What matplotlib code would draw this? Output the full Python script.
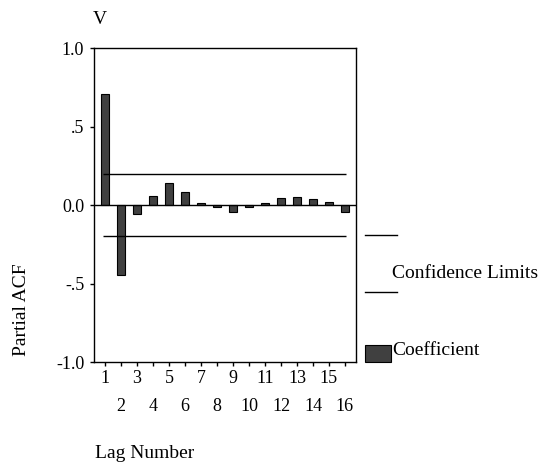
import numpy as np
import matplotlib
matplotlib.use("Agg")
import matplotlib.pyplot as plt
from matplotlib.lines import Line2D
from matplotlib.patches import Rectangle

plt.rcParams["font.family"] = ["Liberation Serif", "DejaVu Serif"]

lags = np.arange(1, 17)
pacf = [0.707, -0.444, -0.060, 0.060, 0.142, 0.085, 0.010, -0.010,
        -0.045, -0.010, 0.010, 0.043, 0.053, 0.036, 0.021, -0.045]
conf_limit = 0.2
ytick_vals = [1.0, 0.5, 0.0, -0.5, -1.0]
ytick_labels = ["1.0", ".5", "0.0", "-.5", "-1.0"]

W, H = 558, 465
fig = plt.figure(figsize=(W / 100, H / 100), dpi=100)

# axes box in pixel terms
left, right, top, bottom = 94, 356, 48, 362
ax = fig.add_axes([left / W, 1 - bottom / H, (right - left) / W, (bottom - top) / H])

ax.bar(lags, pacf, width=0.5, color="#404040", edgecolor="black", linewidth=0.8, zorder=2)
ax.axhline(0, color="black", linewidth=1, zorder=3)
ax.hlines([conf_limit, -conf_limit], 0.9, 16.05, colors="black", linewidth=1, zorder=3)

ax.set_xlim(0.31, 16.69)
ax.set_ylim(-1.0, 1.0)

ax.set_yticks(ytick_vals)
ax.set_yticklabels(ytick_labels)

# odd lags on the first row, even lags on the second row
ax.set_xticks(lags[::2])
ax.set_xticklabels([str(l) for l in lags[::2]])
ax.set_xticks(lags[1::2], minor=True)
ax.set_xticklabels([str(l) for l in lags[1::2]], minor=True)

ax.tick_params(axis="both", which="both", direction="out", length=3, width=1,
               labelsize=13, color="black")
ax.tick_params(axis="x", which="major", pad=3)
ax.tick_params(axis="x", which="minor", pad=23)
ax.tick_params(axis="y", pad=4)

for sp in ax.spines.values():
    sp.set_linewidth(1)

fig.text(22 / W, 1 - 310 / H, "Partial ACF", rotation=90, fontsize=14,
         ha="center", va="center")
fig.text(95 / W, 1 - 453 / H, "Lag Number", fontsize=14, ha="left", va="center")
fig.text(100 / W, 1 - 20 / H, "V", fontsize=14, ha="center", va="center")

# legend drawn by hand
for yy in (235, 292):
    fig.add_artist(Line2D([365 / W, 397 / W], [1 - yy / H, 1 - yy / H],
                          color="black", linewidth=1))
fig.text(392 / W, 1 - 273 / H, "Confidence Limits", fontsize=14, ha="left", va="center")
fig.add_artist(Rectangle((365 / W, 1 - 362 / H), 26 / W, 17 / H,
                         facecolor="#404040", edgecolor="black", linewidth=0.8,
                         transform=fig.transFigure))
fig.text(392 / W, 1 - 350 / H, "Coefficient", fontsize=14, ha="left", va="center")

fig.savefig("out.png", dpi=100)
plt.close(fig)
